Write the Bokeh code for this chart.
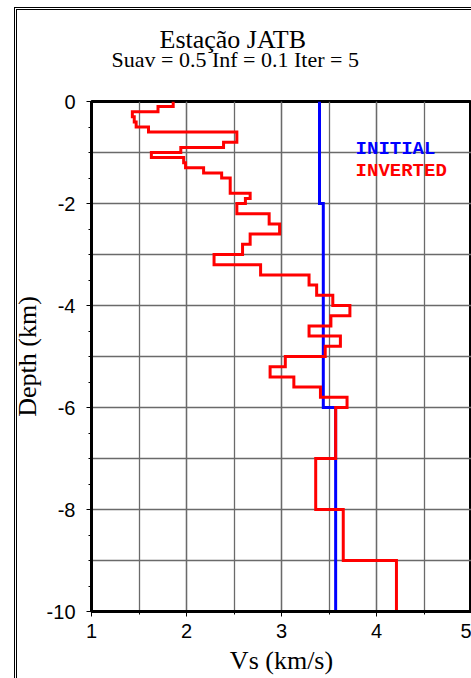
from bokeh.embed import file_html
from bokeh.models import CustomJSTickFormatter, Label, Range1d, SingleIntervalTicker, Title
from bokeh.plotting import figure
from bokeh.resources import INLINE

# Inverted S-wave model: layer tops (km) and velocities (km/s)
layer_top = [0.0, 0.1, 0.2, 0.3, 0.4, 0.5, 0.6, 0.7, 0.8, 0.9,
             1.0, 1.1, 1.2, 1.3, 1.4, 1.5, 1.6, 1.7, 1.8, 1.9,
             2.0, 2.2, 2.4, 2.6, 2.8, 3.0, 3.2, 3.4, 3.6, 3.8,
             4.0, 4.2, 4.4, 4.6, 4.8, 5.0, 5.2, 5.4, 5.6, 5.8,
             6.0, 7.0, 8.0, 9.0]
vs_inverted = [1.86, 1.70, 1.43, 1.45, 1.47, 1.60, 2.53, 2.53, 2.39, 1.94,
               1.63, 1.97, 1.99, 2.18, 2.37, 2.46, 2.46, 2.46, 2.67, 2.62,
               2.53, 2.87, 2.98, 2.67, 2.59, 2.29, 2.78, 3.29, 3.37, 3.54,
               3.72, 3.52, 3.29, 3.62, 3.46, 3.04, 2.88, 3.13, 3.41, 3.69,
               3.57, 3.36, 3.65, 4.21]

# Initial (starting) model
init_top = [0.0, 2.0, 6.0]
vs_initial = [3.40, 3.44, 3.57]

max_depth = 10.0

title = "Estação JATB"
subtitle = "Suav = 0.5 Inf = 0.1 Iter = 5"
x_label = "Vs (km/s)"
y_label = "Depth (km)"
legend_names = ["INITIAL", "INVERTED"]


def step_profile(tops, values, bottom):
    """Turn a layered model into the x/y vertices of a step line."""
    bottoms = list(tops[1:]) + [bottom]
    xs, ys = [], []
    for t, b, v in zip(tops, bottoms, values):
        xs += [v, v]
        ys += [-t, -b]
    return xs, ys


p = figure(
    width=471, height=678,
    x_range=Range1d(1, 5), y_range=Range1d(-10, 0),
    output_backend="svg", toolbar_location=None,
    min_border_left=91, min_border_right=0,
    min_border_top=101, min_border_bottom=67,
    background_fill_color="white", border_fill_color=None,
)

# double page border drawn behind the (transparent) canvas border area
p.styles = {
    "background-color": "white",
    "background-image": ("linear-gradient(#000,#000), linear-gradient(#000,#000), "
                         "linear-gradient(#000,#000), linear-gradient(#000,#000)"),
    "background-size": "1px 100%, 1px 100%, 100% 1px, 100% 1px",
    "background-position": "14px 7px, 16px 9px, 14px 7px, 16px 9px",
    "background-repeat": "no-repeat",
}

# titles (the one added last sits on top); the main title is pulled down
# so that it sits right above the subtitle line
p.add_layout(Title(text=subtitle, align="left", offset=20, standoff=60,
                   text_font="Liberation Serif", text_font_size="22px",
                   text_font_style="normal", text_color="black"), "above")
p.add_layout(Title(text=title, align="left", offset=68, standoff=-78,
                   text_font="Liberation Serif", text_font_size="26px",
                   text_font_style="normal", text_color="black"), "above")

# frame and axes
p.outline_line_color = "black"
p.outline_line_width = 3

p.xaxis.ticker = SingleIntervalTicker(interval=1, num_minor_ticks=2)
p.yaxis.ticker = SingleIntervalTicker(interval=2, num_minor_ticks=4)
p.yaxis.formatter = CustomJSTickFormatter(code="return String(Math.round(tick));")
for ax in (p.xaxis, p.yaxis):
    ax.axis_line_width = 3
    ax.axis_line_color = "black"
    ax.major_tick_line_color = "black"
    ax.minor_tick_line_color = "black"
    ax.major_tick_line_width = 1
    ax.minor_tick_line_width = 1
    ax.major_tick_out = 5
    ax.major_tick_in = 0
    ax.minor_tick_out = 3
    ax.minor_tick_in = 0
    ax.major_label_text_font = "Liberation Sans"
    ax.major_label_text_font_size = "20px"
    ax.major_label_text_color = "black"
    ax.axis_label_text_font = "Liberation Serif"
    ax.axis_label_text_font_size = "26px"
    ax.axis_label_text_font_style = "normal"
    ax.axis_label_text_color = "black"
p.xaxis.major_label_standoff = 7
p.yaxis.major_label_standoff = 11
p.xaxis.axis_label = x_label
p.yaxis.axis_label = y_label
p.xaxis.axis_label_standoff = 5
p.yaxis.axis_label_standoff = 2

# grid: 0.5 km/s vertical lines, 1 km horizontal lines
p.xgrid.grid_line_color = "#6a6a6a"
p.xgrid.grid_line_width = 1.3
p.xgrid.minor_grid_line_color = "#6a6a6a"
p.xgrid.minor_grid_line_width = 1.3
p.ygrid.ticker = SingleIntervalTicker(interval=1)
p.ygrid.grid_line_color = "#6a6a6a"
p.ygrid.grid_line_width = 1.3

# velocity profiles
xi, yi = step_profile(init_top, vs_initial, max_depth)
p.line(xi, yi, line_color="#0000ff", line_width=3, line_join="miter")
xv, yv = step_profile(layer_top, vs_inverted, max_depth)
p.line(xv, yv, line_color="#ff0000", line_width=3, line_join="miter")

# legend text
for name, color, y in zip(legend_names, ["#0000ff", "#ff0000"], [-0.93, -1.36]):
    p.add_layout(Label(x=3.78, y=y, text=name, text_color=color,
                       text_font="Liberation Mono", text_font_style="bold",
                       text_font_size="19px", text_baseline="alphabetic"))

open("out.html", "w").write(file_html(p, INLINE))
